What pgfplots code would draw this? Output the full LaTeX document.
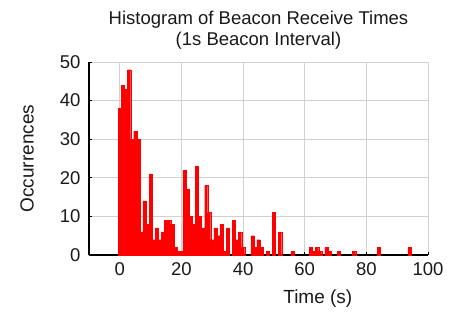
\documentclass[border=0pt]{standalone}
\usepackage{fontspec}
\setmainfont{Liberation Sans}
\usepackage{pgfplots}
\pgfplotsset{compat=1.18}
\begin{document}
\begin{tikzpicture}[x=1pt,y=1pt]
\path[use as bounding box] (0,0) rectangle (450,314);
\begin{axis}[
  at={(89pt,59pt)}, anchor=south west,
  scale only axis, width=339pt, height=193pt,
  xmin=-10, xmax=100, ymin=0, ymax=50,
  axis x line*=bottom, axis y line*=left,
  xtick={0,20,...,100}, ytick={0,10,...,50},
  grid=major, grid style={black!18, line width=0.8pt},
  axis line style={black, line width=1.2pt},
  tick style={black, line width=1pt}, major tick length=3pt,
  tick align=inside,
  ticklabel style={font=\fontsize{18.5}{20}\selectfont, text=black!90},
  xticklabel style={yshift=-4pt},
  yticklabel style={xshift=-5pt},
  /pgf/number format/assume math mode=true,
  title={Histogram of Beacon Receive Times\\(1s Beacon Interval)},
  title style={align=center, font=\fontsize{18.5}{21}\selectfont, text=black!90, yshift=3pt},
  xlabel={Time (s)},
  xlabel style={font=\fontsize{19}{20}\selectfont, text=black!90, at={(axis description cs:0.675,-0.225)}, anchor=center},
  ylabel={Occurrences},
  ylabel style={font=\fontsize{19}{20}\selectfont, text=black!90, at={(axis description cs:-0.183,0.5)}, anchor=center},
]
\addplot[ybar, bar width=1, bar shift=0pt, fill=red, draw=red, line width=0.1pt] coordinates {
(0,38) (1,44) (2,43) (3,48) (4,30) (5,32) (6,30) (7,6) (8,14) (9,8)
(10,21) (11,4) (12,7) (13,4) (14,6) (15,9) (16,9) (17,8) (18,2) (19,1)
(20,1) (21,22) (22,17) (23,10) (24,8) (25,23) (26,10) (27,7) (28,18) (29,11)
(30,4) (31,7) (32,5) (33,8) (34,1) (35,7) (37,9) (38,4) (39,6) (40,2)
(43,5) (44,2) (45,4) (46,2) (48,1) (50,11) (52,6) (56,1)
(62,2) (63,1) (64,2) (65,1) (67,2) (68,1) (71,1) (76,1) (84,2) (94,2)
};
\end{axis}
\end{tikzpicture}
\end{document}
